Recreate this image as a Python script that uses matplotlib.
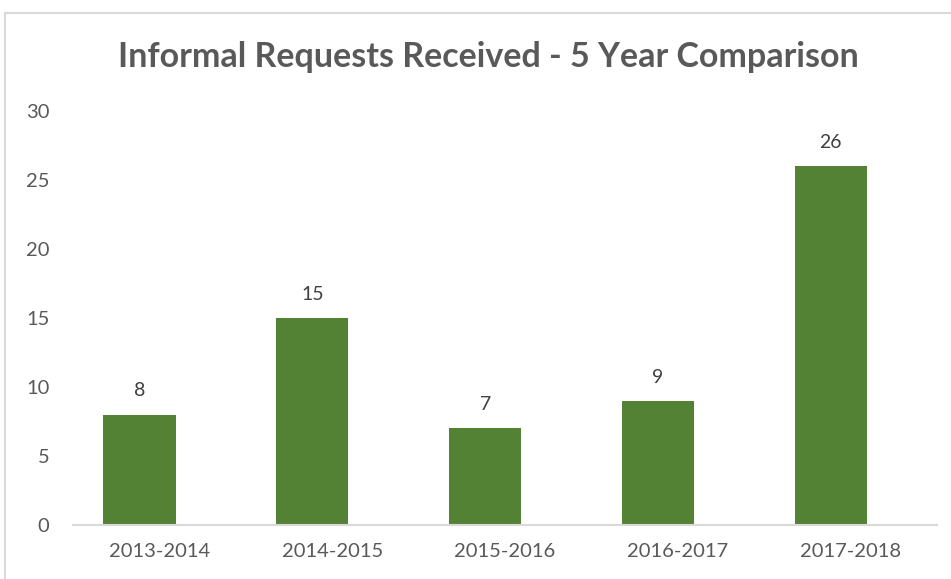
import matplotlib
matplotlib.use("Agg")
import matplotlib.pyplot as plt
from matplotlib.patches import Rectangle

years = ["2013-2014", "2014-2015", "2015-2016", "2016-2017", "2017-2018"]
requests = [8, 15, 7, 9, 26]

BAR_GREEN = "#548235"
TEXT_GRAY = "#595959"

plt.rcParams["font.family"] = ["Lato", "DejaVu Sans"]

fig = plt.figure(figsize=(9.51, 5.79), dpi=100)
# outer chart frame, cropped on the right and bottom
fig.patches.append(Rectangle((5 / 951, -0.1), 1.2, (579 - 13) / 579 + 0.1,
                             transform=fig.transFigure, fill=False,
                             edgecolor="#d9d9d9", linewidth=1.5))

ax = fig.add_axes([73 / 951, 54 / 579, 864 / 951, 414 / 579])
x = list(range(len(years)))
bar_x = [i - 0.115 for i in x]
bars = ax.bar(bar_x, requests, width=0.417, color=BAR_GREEN)
for b, v in zip(bars, requests):
    ax.annotate(str(v), (b.get_x() + b.get_width() / 2, v), xytext=(0, 11),
                textcoords="offset points", ha="center", va="bottom",
                fontsize=14, color="#404040")

ax.set_xlim(-0.5, 4.5)
ax.set_ylim(0, 30)
ax.set_yticks(range(0, 31, 5))
ax.set_xticks(x)
ax.set_xticklabels(years)
ax.tick_params(length=0, labelsize=14.5, labelcolor=TEXT_GRAY)
ax.tick_params(axis="y", pad=17)
ax.tick_params(axis="x", pad=13)
for s in ["top", "right", "left"]:
    ax.spines[s].set_visible(False)
ax.spines["bottom"].set_color("#d9d9d9")
ax.spines["bottom"].set_linewidth(1.5)

fig.text(488 / 951, 1 - 57 / 579, "Informal Requests Received - 5 Year Comparison",
         ha="center", va="center", fontsize=24.5, fontweight="bold", color=TEXT_GRAY)

fig.savefig("out.png", dpi=100)
